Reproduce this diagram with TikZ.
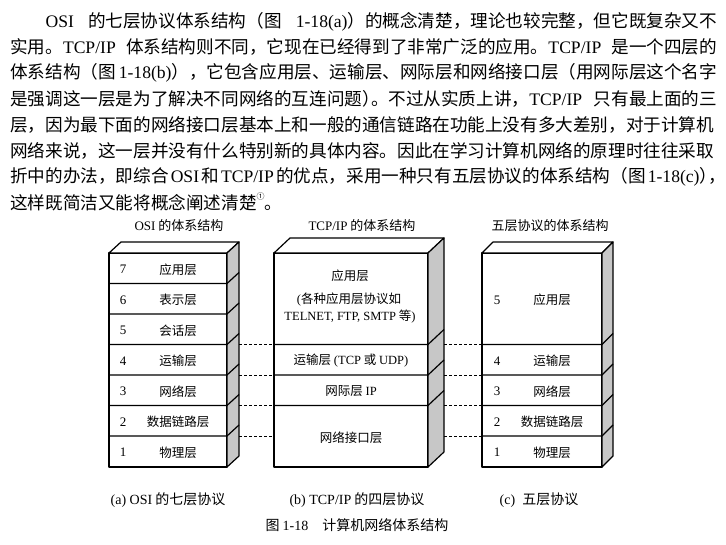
\documentclass[tikz,border=0pt]{standalone}
\usepackage{fontspec}
\setmainfont{Noto Sans CJK SC}
\newfontfamily\lat{Liberation Serif}
\newcommand\halfpunct[1]{{\addfontfeature{RawFeature=+halt}#1}}
\newcommand\gap{\hspace{2pt plus 8pt}}
\XeTeXlinebreaklocale "zh"
\XeTeXlinebreakskip=0pt plus 1pt minus 0.2pt

\tikzstyle{front}=[draw=black,fill=white,line width=1.2pt,line join=round]
\tikzstyle{side}=[draw=black,fill=black!22,line width=1.2pt,line join=round]
\tikzstyle{edge}=[draw=black,line width=1.2pt]
\tikzstyle{link}=[draw=black,line width=0.6pt,dash pattern=on 3pt off 2pt]
\tikzstyle{body}=[anchor=west,inner sep=0pt,font=\fontsize{17.6}{20}\selectfont]
\tikzstyle{head}=[inner sep=0pt,font=\fontsize{13}{15}\selectfont]
\tikzstyle{lay}=[inner sep=0pt,font=\fontsize{12.5}{14}\selectfont]
\tikzstyle{num}=[inner sep=0pt,font=\lat\fontsize{13}{14}\selectfont]
\tikzstyle{captext}=[inner sep=0pt,font=\fontsize{14}{16}\selectfont]

\begin{document}
\begin{tikzpicture}[x=1pt,y=-1pt]

   \useasboundingbox[fill=white] (0,0) rectangle (726,545);

   % Paragraph

   \draw (45.4,21.6) node[body] (t1) {\makebox[671.6pt][s]{{\lat OSI}\gap 的七层协议体系结构（图\gap{\lat 1-18(a)}）的概念清楚，理论也较完整，但它既复杂又不}};
   \draw (10,47.4) node[body] (t2) {\makebox[707pt][s]{实用。{\lat TCP/IP} 体系结构则不同，它现在已经得到了非常广泛的应用。{\lat TCP/IP} 是一个四层的}};
   \draw (10,73.2) node[body] (t3) {\makebox[707pt][s]{体系结构（图 {\lat 1-18(b)}），它包含应用层、运输层、网际层和网络接口层（用网际层这个名字}};
   \draw (10,99) node[body] (t4) {\makebox[707pt][s]{是强调这一层是为了解决不同网络的互连问题\halfpunct{）}。不过从实质上讲，{\lat TCP/IP} 只有最上面的三}};
   \draw (10,124.8) node[body] (t5) {\makebox[707pt][s]{层，因为最下面的网络接口层基本上和一般的通信链路在功能上没有多大差别，对于计算机}};
   \draw (10,150.6) node[body] (t6) {\makebox[707pt][s]{网络来说，这一层并没有什么特别新的具体内容。因此在学习计算机网络的原理时往往采取}};
   \draw (10,176.4) node[body] (t7) {\makebox[707pt][s]{折中的办法，即综合\gap{\lat OSI}\gap 和\gap{\lat TCP/IP}\gap 的优点，采用一种只有五层协议的体系结构（图\gap{\lat 1-18(c)}\halfpunct{）}\halfpunct{，}}};
   \draw (10,202.2) node[body] (t8) {这样既简洁又能将概念阐述清楚\raisebox{0.55em}{\fontsize{8}{8}\selectfont ①}。};

   % OSI stack

   \draw (179,226) node[head] (osititle) {{\lat OSI} 的体系结构};
   \fill[front] (109,253) coordinate(a7tl) rectangle (227,467) coordinate(a1br);
   \fill[front] (109,253) -- (121,242) -- (239,242) -- (227,253) -- cycle;
   \fill[side] (227,253) -- (239,242) -- (239,456) -- (227,467) -- cycle;

   \draw[edge] (109,283.5) -- (227,283.5) -- (239,272.5);
   \draw[edge] (109,314) -- (227,314) -- (239,303);
   \draw[edge] (109,344.5) -- (227,344.5) -- (239,333.5);
   \draw[edge] (109,375) -- (227,375) -- (239,364);
   \draw[edge] (109,405.5) -- (227,405.5) -- (239,394.5);
   \draw[edge] (109,436) -- (227,436) -- (239,425);

   \draw (123,269.5) node[num] (a7n) {7};
   \draw (178,269.5) node[lay] (a7) {应用层};
   \draw (123,300) node[num] (a6n) {6};
   \draw (178,300) node[lay] (a6) {表示层};
   \draw (123,330.5) node[num] (a5n) {5};
   \draw (178,330.5) node[lay] (a5) {会话层};
   \draw (123,361) node[num] (a4n) {4};
   \draw (178,361) node[lay] (a4) {运输层};
   \draw (123,391.5) node[num] (a3n) {3};
   \draw (178,391.5) node[lay] (a3) {网络层};
   \draw (123,422) node[num] (a2n) {2};
   \draw (178,422) node[lay] (a2) {数据链路层};
   \draw (123,452.5) node[num] (a1n) {1};
   \draw (178,452.5) node[lay] (a1) {物理层};

   % TCP/IP stack

   \draw (362,226) node[head] (tcptitle) {{\lat TCP/IP} 的体系结构};
   \fill[front] (274,253) coordinate(b4tl) rectangle (428,467) coordinate(b1br);
   \fill[front] (274,253) -- (290,238) -- (444,238) -- (428,253) -- cycle;
   \fill[side] (428,253) -- (444,238) -- (444,452) -- (428,467) -- cycle;

   \draw[edge] (274,344.5) -- (428,344.5) -- (444,329.5);
   \draw[edge] (274,375) -- (428,375) -- (444,360);
   \draw[edge] (274,405.5) -- (428,405.5) -- (444,390.5);

   \draw (350,276) node[lay] (b4) {应用层};
   \draw (349,300) node[lay] (b4a) {{\lat (}各种应用层协议如};
   \draw (350,317) node[lay] (b4b) {{\lat TELNET, FTP, SMTP} 等{\lat )}};
   \draw (351,361) node[lay] (b3) {运输层 {\lat (TCP} 或 {\lat UDP)}};
   \draw (351,391.5) node[lay] (b2) {网际层 {\lat IP}};
   \draw (351,437.5) node[lay] (b1) {网络接口层};

   % Five-layer stack

   \draw (550,226) node[head] (fivetitle) {五层协议的体系结构};
   \fill[front] (482,253) coordinate(c5tl) rectangle (602,467) coordinate(c1br);
   \fill[front] (482,253) -- (493,242) -- (613,242) -- (602,253) -- cycle;
   \fill[side] (602,253) -- (613,242) -- (613,456) -- (602,467) -- cycle;

   \draw[edge] (482,344.5) -- (602,344.5) -- (613,333.5);
   \draw[edge] (482,375) -- (602,375) -- (613,364);
   \draw[edge] (482,405.5) -- (602,405.5) -- (613,394.5);
   \draw[edge] (482,436) -- (602,436) -- (613,425);

   \draw (497,300) node[num] (c5n) {5};
   \draw (552,300) node[lay] (c5) {应用层};
   \draw (497,361) node[num] (c4n) {4};
   \draw (552,361) node[lay] (c4) {运输层};
   \draw (497,391.5) node[num] (c3n) {3};
   \draw (552,391.5) node[lay] (c3) {网络层};
   \draw (497,422) node[num] (c2n) {2};
   \draw (552,422) node[lay] (c2) {数据链路层};
   \draw (497,452.5) node[num] (c1n) {1};
   \draw (552,452.5) node[lay] (c1) {物理层};

   % Dashed links

   \coordinate (osi4) at (239,344.5);
   \coordinate (osi3) at (239,375);
   \coordinate (osi2) at (239,405.5);
   \coordinate (osi1) at (239,436);
   \coordinate (tcpin4) at (274,344.5);
   \coordinate (tcpin3) at (274,375);
   \coordinate (tcpin2) at (274,405.5);
   \coordinate (tcpin1) at (274,436);
   \coordinate (tcpout4) at (444,344.5);
   \coordinate (tcpout3) at (444,375);
   \coordinate (tcpout2) at (444,405.5);
   \coordinate (tcpout1) at (444,436);
   \coordinate (five4) at (482,344.5);
   \coordinate (five3) at (482,375);
   \coordinate (five2) at (482,405.5);
   \coordinate (five1) at (482,436);

   \draw[link] (osi4) -- (tcpin4);
   \draw[link] (osi3) -- (tcpin3);
   \draw[link] (osi2) -- (tcpin2);
   \draw[link] (osi1) -- (tcpin1);
   \draw[link] (tcpout4) -- (five4);
   \draw[link] (tcpout3) -- (five3);
   \draw[link] (tcpout2) -- (five2);
   \draw[link] (tcpout1) -- (five1);

   % Captions

   \draw (168,500) node[captext] (capa) {{\lat (a) OSI} 的七层协议};
   \draw (357,500) node[captext] (capb) {{\lat (b) TCP/IP} 的四层协议};
   \draw (539,500) node[captext] (capc) {{\lat (c)}\hspace{0.5em}五层协议};
   \draw (357,525) node[captext] (fig) {图 {\lat 1-18}\hspace{1em}计算机网络体系结构};

\end{tikzpicture}
\end{document}
